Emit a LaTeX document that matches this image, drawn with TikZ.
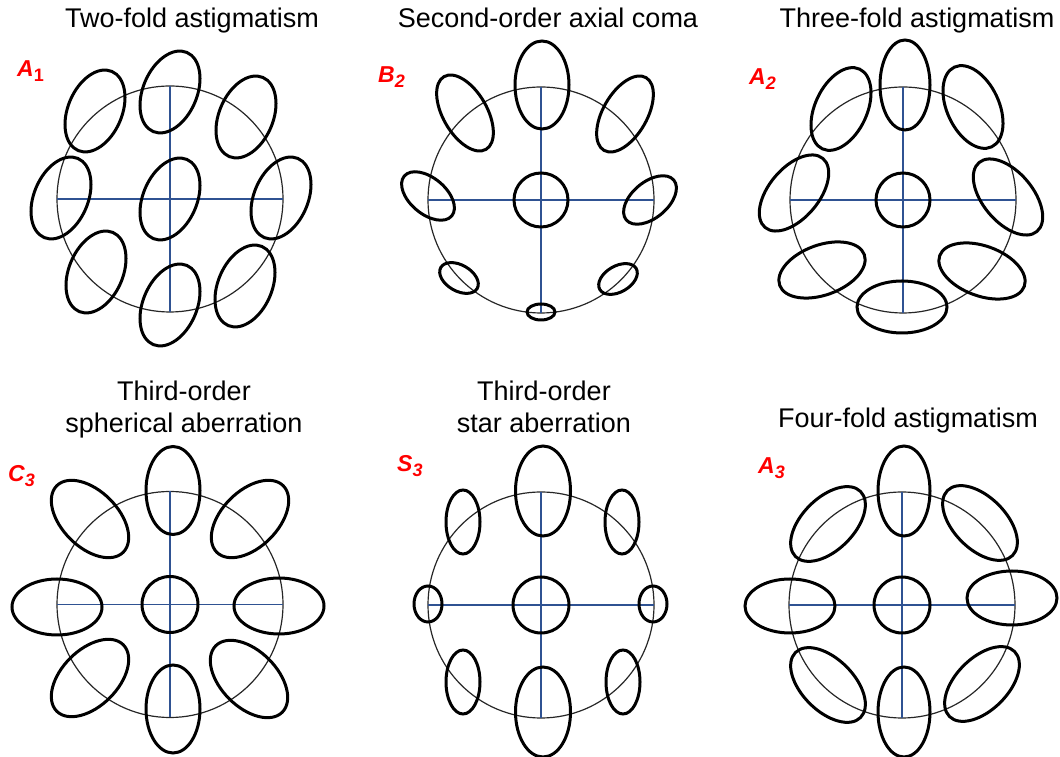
\documentclass[tikz,border=0pt]{standalone}
\usepackage{fontspec}
\setmainfont{Liberation Sans}
\usepackage{tikz}
\definecolor{axisblue}{RGB}{47,82,146}

\begin{document}
\begin{tikzpicture}[
    x=1pt, y=1pt,
    ring/.style={draw=black!85, line width=1.2pt},
    axis/.style={draw=axisblue, line width=1.5pt},
    spot/.style={draw=black, line width=3pt},
    title/.style={font=\fontsize{27}{32}\selectfont, align=center, inner sep=0pt},
    tag/.style={font=\fontsize{23}{26}\selectfont\bfseries\itshape, text=red,
                inner sep=0pt, anchor=base west},
]
\useasboundingbox (0,0) rectangle (1060,757);

% Reference circles and axes
\foreach \cx/\cy in {170/558, 541/557, 903/557, 170/152.5, 541/152, 902/152} {
    \draw[ring] (\cx,\cy) circle [radius=113];
    \draw[axis] (\cx-113,\cy) -- (\cx+113,\cy);
    \draw[axis] (\cx,\cy-113) -- (\cx,\cy+113);
}

% A1: two-fold astigmatism
\begin{scope}[shift={(170,558)}]
\foreach \x/\y in {0/0, 0/107, 76/82, 111/1, 75/-87, 0/-106, -74/-73, -109/1, -75/88}
    \draw[spot, shift={(\x,\y)}, rotate=67] (0,0) ellipse [x radius=43, y radius=27];
\end{scope}

% B2: second-order axial coma
\begin{scope}[shift={(541,557)}]
\foreach \x/\y/\a/\b/\r in {0/0/27/27/0, 1/115/44/27/90, -76/87/42/22/120, 84/86/42/22/60,
        -113/4/31/18/140, 109/0/31/18/40, -82/-78/21/13/150, 77/-79/21/13/30, 0/-112/14/8/0}
    \draw[spot, shift={(\x,\y)}, rotate=\r] (0,0) ellipse [x radius=\a, y radius=\b];
\end{scope}

% A2: three-fold astigmatism
\begin{scope}[shift={(903,557)}]
\foreach \x/\y/\a/\b/\r in {0/0/27/27/0, 2/115/45/25/90, -62/91/44/26/65, 70/93/44/26/115,
        -109/7/45/25/50, 105/3/45/25/130, -81/-70/45/25/20, 79/-71/45/25/160, -1/-107/45/26/0}
    \draw[spot, shift={(\x,\y)}, rotate=\r] (0,0) ellipse [x radius=\a, y radius=\b];
\end{scope}

% C3: spherical aberration
\begin{scope}[shift={(170,152.5)}]
\foreach \x/\y/\a/\b/\r in {0/0/28/28/0, 3/114/44/27/90, 3/-104.5/44/27/90, -113/-2.5/45/28/0,
        109/-1.5/45/28/0, -80/85.5/47/28/135, 80/85.5/47/28/45, -80/-73.5/47/28/45, 79/-74.5/47/28/135}
    \draw[spot, shift={(\x,\y)}, rotate=\r] (0,0) ellipse [x radius=\a, y radius=\b];
\end{scope}

% S3: star aberration
\begin{scope}[shift={(541,152)}]
\foreach \x/\y/\a/\b/\r in {0/0/28/28/0, 2/114/45/27.5/90, 2/-107/45/27.5/90, -113/1/18/14/90,
        112/1/18/14/90, -78/83/32/17/90, 81/83/32/17/90, -78/-77/32/17/90, 82/-77/32/17/90}
    \draw[spot, shift={(\x,\y)}, rotate=\r] (0,0) ellipse [x radius=\a, y radius=\b];
\end{scope}

% A3: four-fold astigmatism
\begin{scope}[shift={(902,152)}]
\foreach \x/\y/\a/\b/\r in {0/0/28/28/0, 2/114/45/26/90, 2/-107/45/26/90, -112/-1/45/27/0,
        110/7/45/27/0, -74/81/46/26/45, 78/82/46/26/135, -74/-80/46/26/135, 80/-79/46/26/45}
    \draw[spot, shift={(\x,\y)}, rotate=\r] (0,0) ellipse [x radius=\a, y radius=\b];
\end{scope}

% Titles
\node[title, anchor=base] (ttlA1) at (192,729) {Two-fold astigmatism};
\node[title, anchor=base] (ttlB2) at (548,729) {Second-order axial coma};
\node[title, anchor=base] (ttlA2) at (917,729) {Three-fold astigmatism};
\node[title, anchor=north] (ttlC3) at (184,376) {Third-order\\spherical aberration};
\node[title, anchor=north] (ttlS3) at (544,376) {Third-order\\star aberration};
\node[title, anchor=base] (ttlA3) at (908,329) {Four-fold astigmatism};

% Red tags
\node[tag] (tagA1) at (17,680) {A\raisebox{-5pt}{\fontsize{18}{18}\selectfont\upshape 1}};
\node[tag] (tagB2) at (378,674) {B\raisebox{-5pt}{\fontsize{18}{18}\selectfont 2}};
\node[tag] (tagA2) at (749,672) {A\raisebox{-5pt}{\fontsize{18}{18}\selectfont 2}};
\node[tag] (tagC3) at (8,275) {C\raisebox{-5pt}{\fontsize{18}{18}\selectfont 3}};
\node[tag] (tagS3) at (397,285) {S\raisebox{-5pt}{\fontsize{18}{18}\selectfont 3}};
\node[tag] (tagA3) at (758,283) {A\raisebox{-5pt}{\fontsize{18}{18}\selectfont 3}};

\end{tikzpicture}
\end{document}
